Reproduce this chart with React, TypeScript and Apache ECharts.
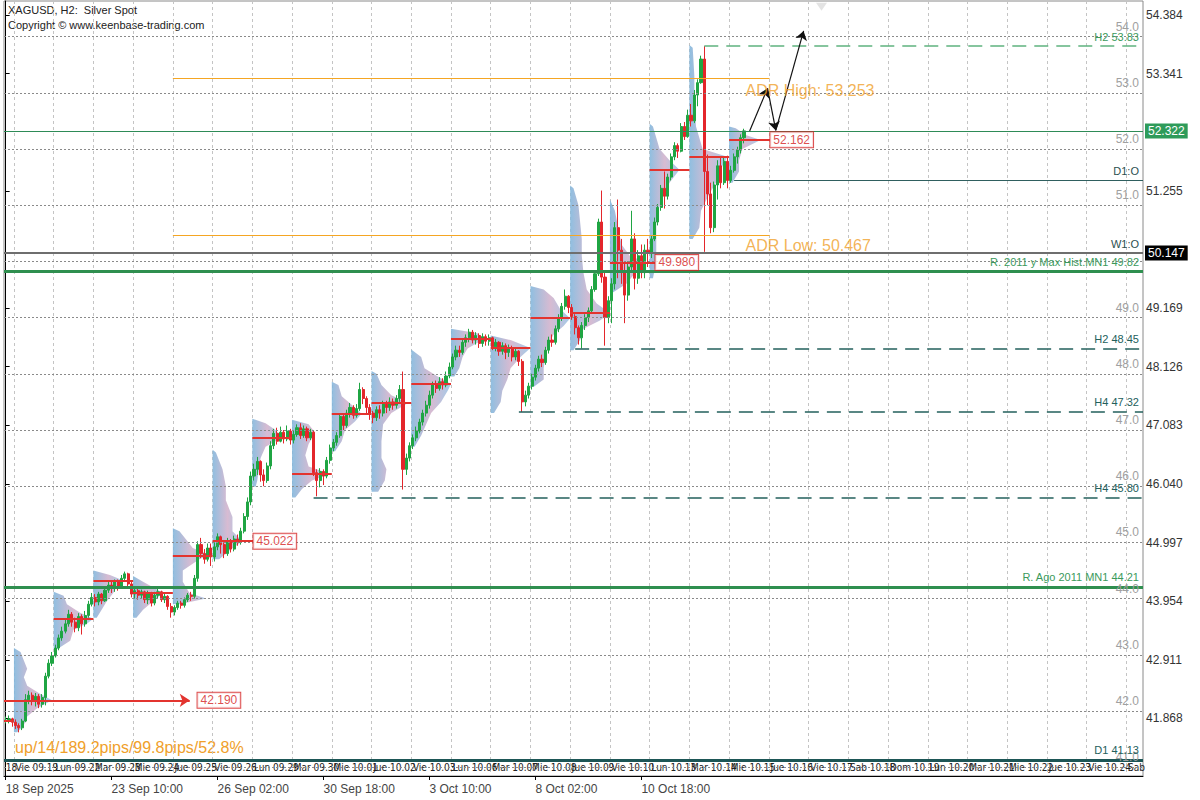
import React, { useEffect, useRef } from 'react';
import * as echarts from 'echarts';

const FONT = '"Liberation Sans", Arial, sans-serif';
const NARROW = '"Liberation Sans Narrow", "DejaVu Sans Condensed", sans-serif';

// ---- time slots (H2 bars, 12 per day) ----
const SLOT_COUNT = 344;
const BARS_PER_DAY = 12;
const FIRST_DAY_SLOT = 3;

// ---- price range ----
const Y_MIN = 40.843;
const Y_MAX = 54.633;
const yTickValues = [41.868, 42.911, 43.954, 44.997, 46.04, 47.083, 48.126, 49.169, 51.255, 53.341, 54.384];
const roundLevels = [41, 42, 43, 44, 45, 46, 47, 48, 49, 50, 51, 52, 53, 54];
const hiddenRoundLabels = [50];

// ---- bottom date labels ----
const dateTickSlots = [0, 32, 64, 96, 128, 160, 192];
const dateTickLabels = ['18 Sep 2025', '23 Sep 10:00', '26 Sep 02:00', '30 Sep 18:00', '3 Oct 10:00', '8 Oct 02:00', '10 Oct 18:00'];

// ---- day strip labels ----
const firstStripLabel = '18';
const dayStripLabels = ['Vie 09.19', 'Lun 09.22', 'Mar 09.23', 'Mie 09.24', 'Jue 09.25', 'Vie 09.26', 'Lun 09.29', 'Mar 09.30',
  'Mie 10.01', 'Jue 10.02', 'Vie 10.03', 'Lun 10.06', 'Mar 10.07', 'Mie 10.08', 'Jue 10.09', 'Vie 10.10', 'Lun 10.13',
  'Mar 10.14', 'Mie 10.15', 'Jue 10.16', 'Vie 10.17', 'Sab 10.18', 'Dom 10.19', 'Lun 10.20', 'Mar 10.21', 'Mie 10.22',
  'Jue 10.23', 'Vie 10.24', 'Sab'];

// ---- OHLC (open = previous close) ----
const firstOpen = 41.82;
const closes = [
  41.84, 41.86, 41.80,
  41.74, 41.70, 41.82, 42.20, 42.28, 42.18, 42.26, 42.12, 42.24, 42.62, 42.85, 42.98,
  43.12, 43.30, 43.42, 43.55, 43.72, 43.58, 43.48, 43.68, 43.55, 43.70, 43.90, 44.02,
  43.94, 44.08, 43.96, 44.15, 44.24, 44.18, 44.30, 44.22, 44.36, 44.44, 44.26, 44.08,
  44.14, 44.06, 44.12, 43.98, 44.10, 43.92, 44.06, 44.12, 43.98, 44.04, 43.86, 43.76,
  43.84, 43.92, 43.88, 43.98, 44.06, 44.04, 44.36, 44.96, 44.80, 44.70, 44.90, 44.74,
  44.92, 45.10, 44.96, 44.80, 45.02, 44.88, 45.06, 45.00, 45.20, 45.46, 45.72, 46.18,
  46.30, 46.44, 46.20, 46.10, 46.36, 46.72, 46.94, 46.80, 46.96, 46.84, 46.98, 46.82,
  46.92, 47.04, 46.90, 47.02, 46.86, 46.96, 46.24, 46.10, 46.26, 46.18, 46.46, 46.68,
  46.78, 46.90, 47.24, 47.08, 47.30, 47.40, 47.26, 47.38, 47.72, 47.56, 47.40, 47.30,
  47.22, 47.36, 47.30, 47.46, 47.40, 47.50, 47.44, 47.56, 47.72, 46.30, 46.50, 46.72,
  46.86, 46.98, 47.14, 47.30, 47.44, 47.62, 47.80, 47.74, 47.86, 47.80, 47.96, 48.12,
  48.30, 48.42, 48.38, 48.56, 48.64, 48.74, 48.60, 48.68, 48.54, 48.66, 48.58, 48.64,
  48.48, 48.56, 48.40, 48.50, 48.38, 48.46, 48.30, 48.40, 48.22, 47.50, 47.62, 47.78,
  47.94, 48.10, 48.26, 48.20, 48.42, 48.60, 48.56, 48.80, 49.00, 49.20, 49.38, 49.18,
  49.02, 48.82, 48.64, 48.86, 49.00, 49.12, 49.50, 49.78, 50.70, 49.72, 49.00, 49.30,
  49.60, 50.60, 50.20, 49.80, 49.40, 49.90, 50.40, 49.70, 50.10, 49.80, 50.20, 50.15,
  50.40, 50.70, 50.96, 51.30, 51.16, 51.50, 51.86, 52.06, 51.96, 52.40, 52.22, 52.60,
  52.50, 52.96, 53.18, 53.60, 51.60, 51.20, 50.60, 51.36, 51.70, 51.40, 51.78, 51.44,
  51.62, 51.86, 51.98, 52.20, 52.322,
];
const highs = [
  41.90, 41.92, 41.88,
  41.85, 41.78, 41.86, 42.30, 42.36, 42.33, 42.32, 42.30, 42.30, 42.68, 42.92, 43.05,
  43.18, 43.36, 43.50, 43.62, 43.80, 43.76, 43.66, 43.74, 43.72, 43.78, 43.96, 44.10,
  44.08, 44.12, 44.10, 44.20, 44.30, 44.30, 44.34, 44.34, 44.42, 44.48, 44.46, 44.30,
  44.20, 44.18, 44.16, 44.14, 44.14, 44.12, 44.12, 44.18, 44.14, 44.10, 44.06, 43.92,
  43.88, 43.96, 43.96, 44.02, 44.10, 44.12, 44.42, 45.02, 45.08, 44.88, 44.98, 44.98,
  45.00, 45.16, 45.12, 45.00, 45.08, 45.06, 45.12, 45.14, 45.26, 45.52, 45.80, 46.26,
  46.40, 46.52, 46.46, 46.30, 46.42, 46.80, 47.02, 47.04, 47.06, 47.00, 47.08, 47.02,
  47.00, 47.10, 47.12, 47.08, 47.06, 47.02, 47.00, 46.30, 46.32, 46.30, 46.52, 46.74,
  46.84, 46.96, 47.30, 47.28, 47.36, 47.48, 47.44, 47.46, 47.84, 47.76, 47.60, 47.46,
  47.34, 47.42, 47.44, 47.52, 47.52, 47.58, 47.56, 47.62, 47.80, 48.04, 46.58, 46.78,
  46.92, 47.06, 47.20, 47.36, 47.52, 47.70, 47.86, 47.88, 47.94, 47.92, 48.04, 48.20,
  48.36, 48.50, 48.50, 48.62, 48.70, 48.80, 48.78, 48.74, 48.72, 48.72, 48.70, 48.70,
  48.66, 48.62, 48.58, 48.56, 48.54, 48.52, 48.50, 48.46, 48.42, 48.26, 47.70, 47.84,
  48.00, 48.16, 48.32, 48.34, 48.48, 48.66, 48.70, 48.86, 49.06, 49.26, 49.50, 49.40,
  49.24, 49.06, 48.86, 48.92, 49.06, 49.18, 49.56, 49.84, 50.76, 51.26, 49.80, 49.38,
  49.70, 50.70, 51.10, 50.40, 50.00, 50.00, 50.90, 50.50, 50.20, 50.30, 50.30, 50.40,
  50.46, 50.78, 51.02, 51.36, 51.60, 51.56, 51.92, 52.12, 52.10, 52.46, 52.48, 52.70,
  52.80, 53.05, 53.24, 53.66, 53.83, 51.90, 51.40, 51.42, 51.80, 51.86, 51.86, 51.88,
  51.70, 51.92, 52.04, 52.26, 52.36,
];
const lows = [
  41.78, 41.78, 41.72,
  41.68, 41.62, 41.66, 41.80, 42.12, 42.10, 42.08, 42.05, 42.06, 42.10, 42.58, 42.80,
  42.95, 43.08, 43.25, 43.38, 43.50, 43.50, 43.40, 43.42, 43.36, 43.50, 43.66, 43.86,
  43.86, 43.88, 43.90, 43.94, 44.10, 44.10, 44.12, 44.14, 44.18, 44.30, 44.20, 44.02,
  44.00, 43.98, 44.00, 43.92, 43.90, 43.86, 43.88, 44.00, 43.94, 43.92, 43.80, 43.66,
  43.70, 43.80, 43.82, 43.84, 43.94, 43.96, 44.00, 44.30, 44.72, 44.62, 44.66, 44.58,
  44.66, 44.86, 44.80, 44.72, 44.76, 44.82, 44.84, 44.94, 44.96, 45.16, 45.40, 45.66,
  46.10, 46.20, 46.08, 46.00, 46.06, 46.30, 46.66, 46.74, 46.78, 46.76, 46.80, 46.74,
  46.76, 46.88, 46.84, 46.86, 46.80, 46.82, 46.18, 45.82, 45.98, 46.02, 46.14, 46.40,
  46.62, 46.72, 46.86, 47.00, 47.04, 47.22, 47.20, 47.22, 47.34, 47.46, 47.30, 47.18,
  47.12, 47.16, 47.20, 47.24, 47.30, 47.34, 47.36, 47.38, 47.50, 45.94, 46.20, 46.44,
  46.66, 46.80, 46.94, 47.08, 47.24, 47.38, 47.56, 47.66, 47.70, 47.72, 47.76, 47.92,
  48.08, 48.24, 48.30, 48.34, 48.48, 48.56, 48.54, 48.52, 48.46, 48.48, 48.50, 48.50,
  48.42, 48.40, 48.32, 48.34, 48.26, 48.30, 48.22, 48.24, 48.14, 47.32, 47.42, 47.56,
  47.72, 47.88, 48.04, 48.12, 48.16, 48.36, 48.48, 48.52, 48.74, 48.94, 49.14, 49.08,
  48.96, 48.70, 48.52, 48.45, 48.78, 48.92, 49.10, 49.46, 49.74, 49.62, 48.50, 48.90,
  48.90, 49.50, 49.70, 49.60, 48.90, 49.30, 49.80, 49.50, 49.60, 49.70, 49.70, 49.90,
  50.06, 50.36, 50.64, 50.90, 50.94, 51.10, 51.44, 51.80, 51.84, 51.94, 52.16, 52.20,
  52.40, 52.46, 52.76, 53.16, 50.17, 51.00, 50.50, 50.52, 51.10, 51.30, 51.36, 51.30,
  51.40, 51.58, 51.74, 51.92, 52.10,
];

// ---- daily volume profiles: [price, volume] pairs, one list per day ----
const profileLevels = [
  [[41.62, 1], [41.75, 3], [41.9, 4], [42.05, 7], [42.19, 11.5], [42.3, 8], [42.45, 4], [42.6, 3], [42.75, 4], [42.9, 3], [43.05, 2], [43.12, 0]],
  [[43.1, 1], [43.25, 5], [43.45, 6], [43.55, 10], [43.64, 12], [43.75, 8], [43.9, 4], [44.05, 3], [44.12, 0]],
  [[43.66, 1], [43.8, 2.5], [43.95, 4], [44.1, 6], [44.2, 7], [44.32, 9], [44.42, 5], [44.5, 0]],
  [[43.66, 1], [43.8, 3], [43.95, 6], [44.1, 9], [44.2, 6], [44.3, 3], [44.4, 0]],
  [[43.9, 2], [44.0, 10], [44.1, 5], [44.3, 3], [44.5, 3], [44.7, 8], [44.78, 11], [44.9, 6], [45.05, 4], [45.2, 2], [45.25, 0]],
  [[44.7, 2], [44.85, 5], [45.02, 9], [45.2, 6], [45.45, 6], [45.75, 4], [46.0, 4], [46.3, 3], [46.6, 1], [46.65, 0]],
  [[45.99, 1], [46.1, 1.5], [46.3, 2], [46.5, 2.5], [46.7, 4], [46.86, 9], [47.0, 7], [47.12, 4], [47.2, 0]],
  [[45.8, 1], [45.95, 3], [46.1, 6], [46.22, 11.5], [46.35, 5], [46.55, 4], [46.75, 5], [46.95, 7], [47.1, 5], [47.18, 0]],
  [[46.62, 1], [46.8, 3], [47.0, 4], [47.15, 7], [47.29, 9], [47.45, 6], [47.6, 3], [47.8, 2], [47.86, 0]],
  [[45.9, 2], [46.1, 4], [46.3, 4.5], [46.5, 3], [46.8, 3], [47.1, 3.5], [47.3, 6], [47.48, 11], [47.62, 6], [47.8, 3], [48.0, 1.5], [48.05, 0]],
  [[46.7, 1], [46.9, 3], [47.1, 4.5], [47.3, 6], [47.5, 9], [47.7, 11], [47.82, 12], [47.95, 8], [48.1, 4], [48.3, 3], [48.43, 0]],
  [[47.95, 1], [48.1, 2.5], [48.3, 3.5], [48.45, 5], [48.62, 10], [48.72, 8], [48.8, 0]],
  [[47.3, 1], [47.5, 3], [47.7, 3.5], [47.9, 5], [48.1, 6], [48.3, 9], [48.46, 12], [48.6, 6], [48.68, 0]],
  [[47.77, 1], [47.9, 4], [48.1, 4], [48.3, 4.5], [48.5, 5], [48.7, 7], [48.85, 10], [48.99, 12], [49.15, 9], [49.35, 7], [49.5, 4], [49.56, 0]],
  [[48.42, 1], [48.6, 3], [48.8, 4], [48.95, 9], [49.08, 12], [49.25, 8], [49.5, 5], [49.8, 4], [50.1, 3.5], [50.4, 3.5], [50.7, 3], [51.0, 2.5], [51.3, 1], [51.35, 0]],
  [[49.45, 1], [49.6, 5], [49.75, 7], [49.88, 9], [49.98, 11], [50.1, 6], [50.3, 3.5], [50.6, 2.5], [50.9, 1.5], [51.1, 0]],
  [[49.7, 1], [50.0, 2], [50.4, 2], [50.8, 2], [51.15, 4], [51.4, 6], [51.63, 9], [51.8, 6], [52.0, 3], [52.2, 2], [52.4, 1], [52.45, 0]],
  [[50.4, 1], [50.6, 3], [50.9, 3.5], [51.2, 6], [51.45, 8.5], [51.7, 10], [51.86, 11.5], [52.0, 4], [52.4, 2], [52.8, 1.5], [53.3, 1.5], [53.8, 1], [53.85, 0]],
  [[51.4, 1], [51.6, 3], [51.8, 3], [52.0, 4], [52.16, 9.5], [52.25, 5], [52.37, 2], [52.4, 0]],
];
// point of control per day (day 0..18)
const pocPrices = [42.19, 43.64, 44.32, 44.10, 44.77, 45.022, 46.86, 46.22, 47.29, 47.48, 47.82, 48.62, 48.46, 48.99, 49.08, 49.98, 51.63, 51.86, 52.162];
const sep18Poc = 41.82;
// labelled POCs: day index and slot where the label box starts
const pocLabelDays = [0, 5, 15, 18];
const pocLabelSlots = [57.8, 74.7, 196.1, 230.8];

// ---- key levels ----
const adrHigh = 53.253;
const adrLow = 50.467;
const adrFrom = 50.5;
const adrTo = 230.7;
const bidPrice = 52.322;
const d1Open = 51.437;
const w1Open = 50.147;
const h2High = 53.83;
const h2Low = 48.45;
const h4Low1 = 47.32;
const h4Low2 = 45.8;
const mn1Max = 49.82;
const mn1Ago = 44.21;
const d1Low = 41.13;
// projection arrows: [slot, price]
const arrowPath = [[224.7, 52.32], [230.1, 53.08], [232.6, 52.33], [241, 54.1]];

const GREEN = '#3b9a5c';
const TEAL = '#23605c';
const CLEAR = 'rgba(0,0,0,0)';

function seg(x1: number, x2: number, y: number, lineStyle: any, label?: any) {
  return [
    { coord: [x1, y], lineStyle, label: label || { show: false } },
    { coord: [x2, y] },
  ];
}

function insideLabel(text: string, color: string) {
  return {
    show: true, position: 'insideEndTop', formatter: text, color, fontSize: 11,
    fontFamily: FONT, distance: 4,
  };
}

function buildOption() {
  const cats = Array.from({ length: SLOT_COUNT }, (_, i) => String(i));
  const dateMap = new Map<number, string>();
  dateTickSlots.forEach((s, i) => dateMap.set(s, dateTickLabels[i]));
  const stripMap = new Map<number, string>();
  stripMap.set(0, firstStripLabel);
  dayStripLabels.forEach((l, k) => stripMap.set(FIRST_DAY_SLOT + BARS_PER_DAY * k, l));

  const candles = closes.map((c, i) => {
    const o = i === 0 ? firstOpen : closes[i - 1];
    return [o, c, lows[i], highs[i]];
  });

  const L = -0.5;
  const R = SLOT_COUNT - 0.5;
  const dayStart = (d: number) => FIRST_DAY_SLOT + BARS_PER_DAY * d - 0.5;

  const profileFill = new echarts.graphic.LinearGradient(0, 0, 1, 0, [
    { offset: 0, color: 'rgba(128,182,220,0.88)' },
    { offset: 0.5, color: 'rgba(206,172,200,0.82)' },
    { offset: 1, color: 'rgba(150,196,230,0.88)' },
  ]);

  // POC segments
  const pocData: any[] = [];
  pocData.push(seg(L, FIRST_DAY_SLOT - 0.5, sep18Poc, {}));
  pocPrices.forEach((p, d) => {
    if (d === 0) return;
    const li = pocLabelDays.indexOf(d);
    const end = li >= 0 ? pocLabelSlots[li] : dayStart(d) + BARS_PER_DAY;
    pocData.push(seg(dayStart(d), end, p, {}));
  });

  const roundData = roundLevels.map((v) => seg(L, R, v, { color: '#8a8a8a', width: 1, type: [2, 2] }, {
    show: hiddenRoundLabels.indexOf(v) < 0, position: 'insideEndTop', formatter: v.toFixed(1), color: '#a0a0a0',
    fontSize: 12, fontFamily: FONT, distance: 4,
  }));

  const levelData: any[] = [
    seg(adrFrom, adrTo, adrHigh, { color: '#f5a623', width: 1.2, type: 'solid' }),
    seg(adrFrom, adrTo, adrLow, { color: '#f5a623', width: 1.2, type: 'solid' }),
    seg(L, R, bidPrice, { color: '#2e8b57', width: 1, type: 'solid' }, {
      show: true, position: 'end', formatter: bidPrice.toFixed(3), color: '#fff', backgroundColor: '#2e9b5a',
      padding: [2, 3, 1, 3], fontSize: 12, fontFamily: FONT, distance: 2,
    }),
    seg(220, R, d1Open, { color: '#2f5f5f', width: 1, type: 'solid' }, insideLabel('D1:O', '#2b4f4f')),
    seg(L, R, w1Open, { color: '#6e6e6e', width: 2, type: 'solid' }, {
      show: true, position: 'end', formatter: w1Open.toFixed(3), color: '#fff', backgroundColor: '#000',
      padding: [2, 3, 1, 3], fontSize: 12, fontFamily: FONT, distance: 2,
    }),
    seg(L, R, w1Open, { color: CLEAR, width: 1, type: 'solid' }, insideLabel('W1:O', '#2b4f4f')),
    seg(211, R, h2High, { color: '#5fb37f', width: 1.5, type: [14, 8] }, insideLabel('H2 53.83', GREEN)),
    seg(L, R, mn1Max, { color: '#2f8f4f', width: 3, type: 'solid' }, insideLabel('R. 2011 y Max Hist.MN1 49.82', GREEN)),
    seg(172, R, h2Low, { color: TEAL, width: 1.5, type: [14, 8] }, insideLabel('H2 48.45', TEAL)),
    seg(155, R, h4Low1, { color: TEAL, width: 1.5, type: [14, 8] }, insideLabel('H4 47.32', TEAL)),
    seg(93, R, h4Low2, { color: TEAL, width: 1.5, type: [14, 8] }, insideLabel('H4 45.80', TEAL)),
    seg(L, R, mn1Ago, { color: '#2f8f4f', width: 3, type: 'solid' }, insideLabel('R. Ago 2011 MN1 44.21', GREEN)),
    seg(L, R, d1Low, { color: '#1d5656', width: 3, type: 'solid' }, insideLabel('D1 41.13', TEAL)),
  ];

  const arrowData = [];
  for (let i = 0; i < arrowPath.length - 1; i++) {
    arrowData.push([{ coord: arrowPath[i] }, { coord: arrowPath[i + 1] }]);
  }

  const boxLabel = (text: string) => ({
    show: true, position: 'right', distance: 0, formatter: text, color: '#d42020', backgroundColor: '#fff',
    borderColor: '#d42020', borderWidth: 1, padding: [2, 3, 1, 3], fontSize: 12, fontFamily: FONT,
  });
  const adrLabel = (text: string) => ({
    show: true, position: 'right', distance: 0, formatter: text, color: '#f0a02a', fontSize: 16, fontFamily: FONT,
  });
  const annotations = [
    { value: [pocLabelSlots[0], pocPrices[0]], label: boxLabel(pocPrices[0].toFixed(3)) },
    { value: [pocLabelSlots[1], pocPrices[5]], label: boxLabel(pocPrices[5].toFixed(3)) },
    { value: [pocLabelSlots[2], pocPrices[15]], label: boxLabel(pocPrices[15].toFixed(3)) },
    { value: [pocLabelSlots[3], pocPrices[18]], label: boxLabel(pocPrices[18].toFixed(3)) },
    { value: [223.3, 53.049], label: adrLabel('ADR High: ' + adrHigh.toFixed(3)) },
    { value: [223.3, 50.291], label: adrLabel('ADR Low: ' + adrLow.toFixed(3)) },
  ];

  return {
    animation: false,
    backgroundColor: '#fff',
    textStyle: { fontFamily: FONT },
    grid: { left: 4, right: 57, top: 1, height: 775, show: true, borderColor: '#8a8a8a', borderWidth: 1 },
    graphic: [
      { type: 'text', left: 8, top: 4, style: { text: 'XAGUSD, H2:  Silver Spot', fontSize: 11, fontFamily: FONT, fill: '#222' } },
      { type: 'text', left: 8, top: 19, style: { text: 'Copyright © www.keenbase-trading.com', fontSize: 11, fontFamily: FONT, fill: '#222' } },
      { type: 'text', left: 15, top: 739, style: { text: 'up/14/189.2pips/99.8pips/52.8%', fontSize: 16, fontFamily: FONT, fill: '#f0a02a' } },
    ],
    xAxis: [
      {
        type: 'category', data: cats, boundaryGap: true, position: 'bottom',
        axisLine: { lineStyle: { color: '#000', width: 1 } },
        axisTick: { show: true, alignWithLabel: true, length: 4, interval: (i: number) => dateMap.has(i), lineStyle: { color: '#000' } },
        axisLabel: {
          interval: (i: number) => dateMap.has(i), formatter: (_v: string, i: number) => dateMap.get(i) || '',
          align: 'left', color: '#444', fontSize: 12, margin: 7, fontFamily: FONT,
        },
        splitLine: { show: false },
      },
      { type: 'value', min: -0.5, max: SLOT_COUNT - 0.5, show: false },
      {
        type: 'category', data: cats, boundaryGap: true, position: 'bottom',
        axisLine: { show: false }, axisTick: { show: false },
        axisLabel: {
          inside: true, interval: 0, formatter: (_v: string, i: number) => stripMap.get(i) || '',
          align: 'left', color: '#222', fontSize: 10, margin: 4, fontFamily: NARROW,
        },
        splitLine: {
          show: true, interval: (i: number) => i >= FIRST_DAY_SLOT && (i - FIRST_DAY_SLOT) % BARS_PER_DAY === 0,
          lineStyle: { color: '#c4c4c4', width: 1, type: [3, 3] },
        },
      },
    ],
    yAxis: [
      {
        type: 'value', position: 'right', min: Y_MIN, max: Y_MAX, scale: true,
        axisLine: { show: true, lineStyle: { color: '#000' } },
        axisTick: { show: true, length: 4, customValues: yTickValues, lineStyle: { color: '#000' } },
        axisLabel: { customValues: yTickValues, formatter: (v: number) => v.toFixed(3), color: '#333', fontSize: 12, margin: 3, fontFamily: FONT },
        splitLine: { show: false },
      },
    ],
    series: [
      {
        type: 'custom', name: 'profiles', xAxisIndex: 1, yAxisIndex: 0, z: 1, silent: true, clip: true,
        data: profileLevels.map((lv, d) => [dayStart(d), lv[0][0]]),
        renderItem: (params: any, api: any) => {
          const d = params.dataIndex;
          const lv = profileLevels[d];
          const x0 = dayStart(d);
          const pts = [api.coord([x0, lv[0][0]])];
          lv.forEach(([p, w]) => pts.push(api.coord([x0 + w, p])));
          pts.push(api.coord([x0, lv[lv.length - 1][0]]));
          return { type: 'polygon', shape: { points: pts }, style: { fill: profileFill } };
        },
      },
      {
        type: 'line', name: 'grid', xAxisIndex: 1, yAxisIndex: 0, z: 2, data: [[0, Y_MIN]], showSymbol: false,
        lineStyle: { opacity: 0 }, silent: true,
        markLine: { silent: true, symbol: 'none', animation: false, data: roundData },
      },
      {
        type: 'line', name: 'poc', xAxisIndex: 1, yAxisIndex: 0, z: 3, data: [[0, Y_MIN]], showSymbol: false,
        lineStyle: { opacity: 0 }, silent: true,
        markLine: { silent: true, symbol: 'none', animation: false, lineStyle: { color: '#e3342f', width: 2, type: 'solid' }, label: { show: false }, data: pocData },
      },
      {
        type: 'line', name: 'pocArrow', xAxisIndex: 1, yAxisIndex: 0, z: 3, data: [[0, Y_MIN]], showSymbol: false,
        lineStyle: { opacity: 0 }, silent: true,
        markLine: {
          silent: true, symbol: ['none', 'arrow'], symbolSize: 10, animation: false,
          lineStyle: { color: '#e3342f', width: 2, type: 'solid' }, label: { show: false },
          data: [seg(L, pocLabelSlots[0] - 2.2, pocPrices[0], {})],
        },
      },
      {
        type: 'candlestick', name: 'XAGUSD', xAxisIndex: 0, yAxisIndex: 0, z: 4, data: candles, barWidth: 2.6,
        itemStyle: { color: '#1fa543', color0: '#e3262b', borderColor: '#1fa543', borderColor0: '#e3262b', borderWidth: 1 },
      },
      {
        type: 'line', name: 'levels', xAxisIndex: 1, yAxisIndex: 0, z: 5, data: [[0, Y_MIN]], showSymbol: false,
        lineStyle: { opacity: 0 }, silent: true,
        markLine: { silent: true, symbol: 'none', animation: false, data: levelData },
      },
      {
        type: 'line', name: 'arrows', xAxisIndex: 1, yAxisIndex: 0, z: 6, data: [[0, Y_MIN]], showSymbol: false,
        lineStyle: { opacity: 0 }, silent: true,
        markLine: {
          silent: true, symbol: ['none', 'arrow'], symbolSize: 9, animation: false,
          lineStyle: { color: '#111', width: 1.2, type: 'solid' }, label: { show: false }, data: arrowData,
        },
      },
      {
        type: 'scatter', name: 'notes', xAxisIndex: 1, yAxisIndex: 0, z: 7, symbolSize: 1, silent: true,
        itemStyle: { color: CLEAR }, data: annotations,
      },
      {
        type: 'scatter', name: 'marker', xAxisIndex: 1, yAxisIndex: 0, z: 7, symbol: 'triangle', symbolRotate: 180,
        symbolSize: [11, 8], silent: true, itemStyle: { color: '#dcdcdc' }, data: [[246.4, 54.53]],
      },
    ],
  };
}

export default function App() {
  const ref = useRef<HTMLDivElement>(null);
  useEffect(() => {
    const chart = echarts.init(ref.current!, null, { renderer: 'svg' });
    chart.setOption(buildOption() as any);
    return () => chart.dispose();
  }, []);
  return <div ref={ref} style={{ position: 'absolute', left: 0, top: 0, width: 1200, height: 800, background: '#fff' }} />;
}
